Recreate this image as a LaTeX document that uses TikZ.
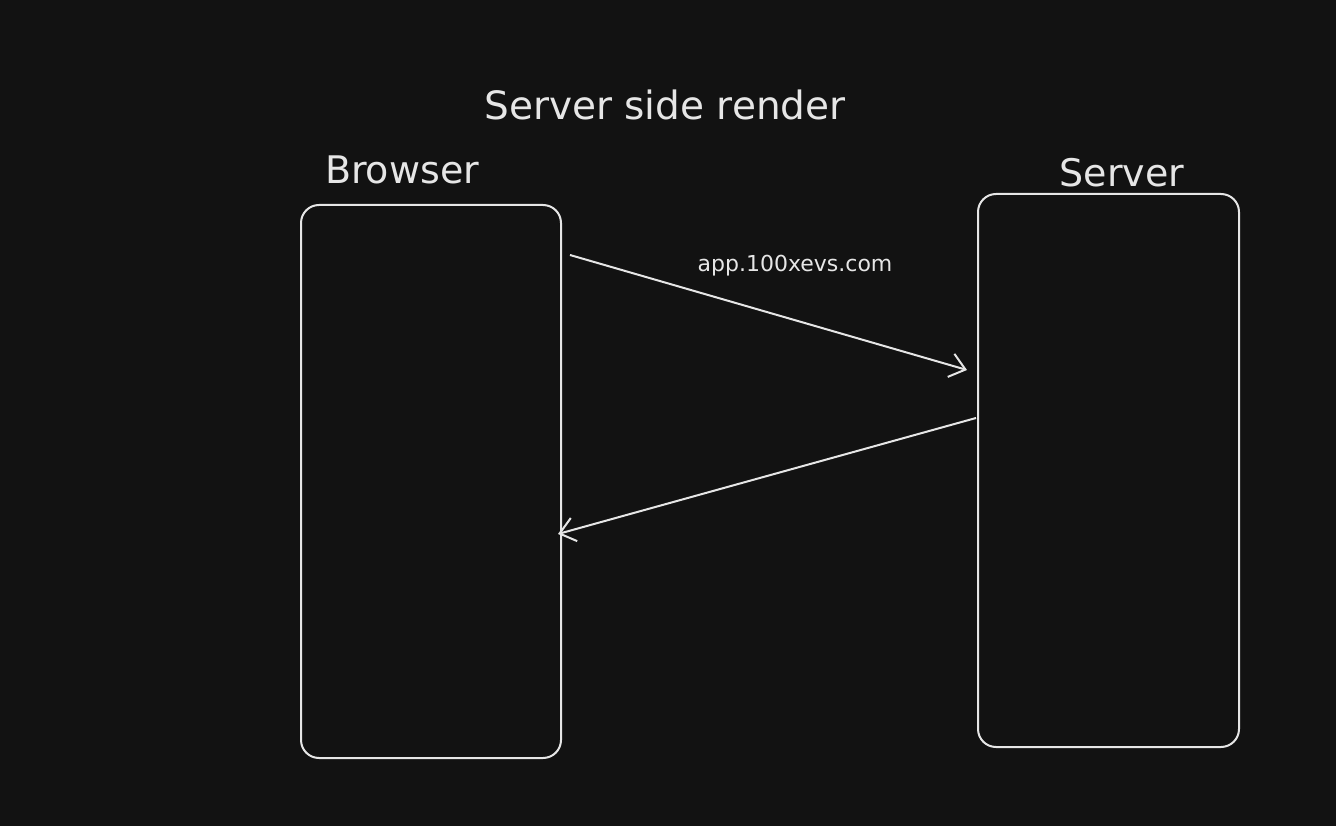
\documentclass[tikz,border=0pt]{standalone}
\usepackage{fontspec}
\setmainfont{DejaVu Sans}
\usetikzlibrary{arrows.meta,calc}
\definecolor{bg}{HTML}{121212}
\definecolor{ink}{HTML}{E6E6E6}
\begin{document}
\begin{tikzpicture}[x=1pt,y=-1pt,
  box/.style={draw=ink,line width=2pt,rounded corners=18pt,fill=bg,inner sep=0pt},
  conn/.style={draw=ink,line width=2pt,-{Straight Barb[length=15pt,width=24pt,line width=2pt]}},
  lbl/.style={text=ink,inner sep=0pt,anchor=center}]
\fill[bg] (0,0) rectangle (1336,826);
\useasboundingbox (0,0) rectangle (1336,826);
\node[box,minimum width=260pt,minimum height=553pt] (browser) at (431,481.5) {};
\node[box,minimum width=261pt,minimum height=553pt] (server) at (1108.5,470.5) {};
\node[lbl,font=\fontsize{39}{41}\selectfont] (title) at (665,105) {Server side render};
\node[lbl,font=\fontsize{38}{40}\selectfont] (blabel) at (402,170) {Browser};
\node[lbl,font=\fontsize{38}{40}\selectfont] (slabel) at (1122,173) {Server};
\node[lbl,font=\fontsize{22}{24}\selectfont] (url) at (795,266) {app.100xevs.com};
\coordinate (a1s) at ($(browser.north east)+(8,51)$);
\coordinate (a1e) at ($(server.north west)+(-10,177)$);
\coordinate (a2s) at ($(server.north west)+(-1,225)$);
\coordinate (a2e) at ($(browser.north east)+(-4,330)$);
\draw[conn] (a1s) -- (a1e);
\draw[conn] (a2s) -- (a2e);
\end{tikzpicture}
\end{document}
